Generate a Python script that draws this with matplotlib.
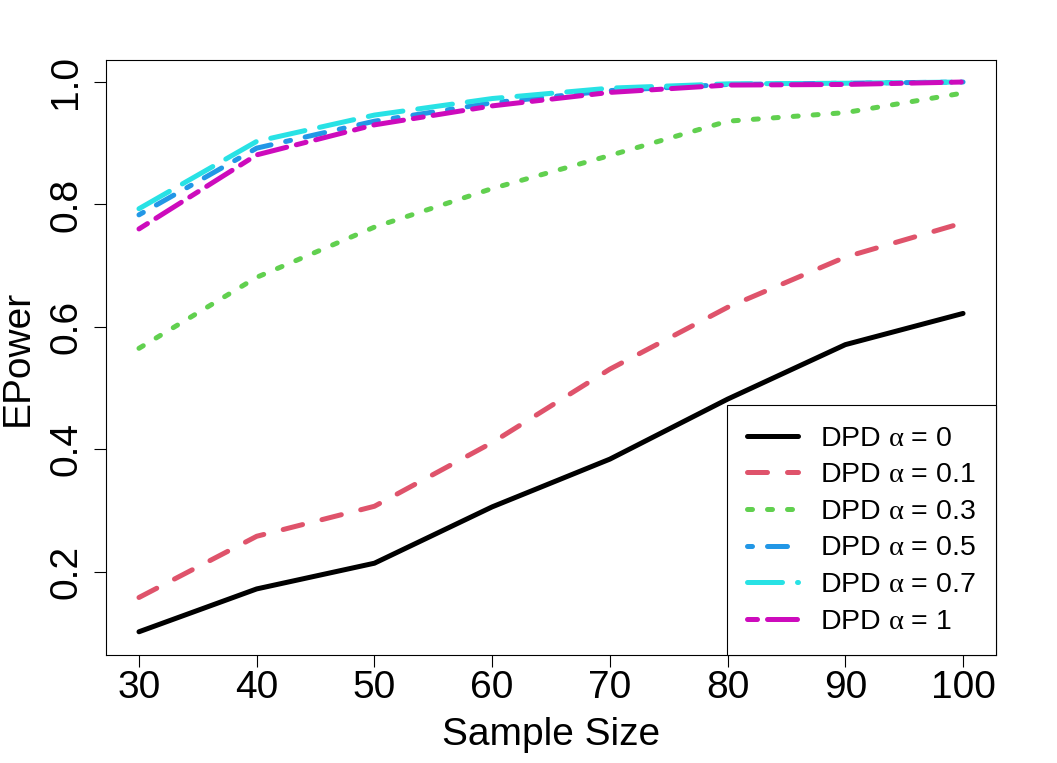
import matplotlib
matplotlib.use("Agg")
import matplotlib.pyplot as plt

# ---- data ----
sample_size = [30, 40, 50, 60, 70, 80, 90, 100]

power_a0 = [0.102, 0.172, 0.214, 0.306, 0.384, 0.482, 0.571, 0.622]
power_a01 = [0.158, 0.258, 0.307, 0.411, 0.531, 0.632, 0.714, 0.770]
power_a03 = [0.565, 0.681, 0.763, 0.826, 0.880, 0.936, 0.950, 0.982]
power_a05 = [0.783, 0.892, 0.936, 0.966, 0.986, 0.996, 0.998, 1.000]
power_a07 = [0.793, 0.903, 0.946, 0.973, 0.990, 0.997, 0.998, 1.000]
power_a1 = [0.760, 0.881, 0.930, 0.961, 0.983, 0.995, 0.996, 1.000]

labels = ["0", "0.1", "0.3", "0.5", "0.7", "1"]

# R 4.x default palette + R line types (in units of line width)
colors = ["#000000", "#DF536B", "#61D04F", "#2297E6", "#28E2E5", "#CD0BBC"]
dashes = [None, (4, 4), (1, 3), (1, 3, 4, 3), (7, 3), (2, 2, 6, 2)]

plt.rcParams["font.family"] = ["Liberation Sans", "DejaVu Sans"]
plt.rcParams["mathtext.fontset"] = "custom"
plt.rcParams["mathtext.rm"] = "Liberation Serif"

fig = plt.figure(figsize=(10.57, 7.63), dpi=100)
ax = fig.add_axes([0.1003, 0.1415, 0.8420, 0.7799])

series = [power_a0, power_a01, power_a03, power_a05, power_a07, power_a1]
for vals, col, dsh, lab in zip(series, colors, dashes, labels):
    line, = ax.plot(sample_size, vals, color=col, lw=3.6,
                    solid_capstyle="round", dash_capstyle="round",
                    solid_joinstyle="round",
                    label=r"DPD $\mathrm{\alpha}$ = " + lab)
    if dsh is not None:
        line.set_dashes(dsh)

ax.set_xlim(27.2, 102.8)
ax.set_ylim(0.064, 1.036)
ax.set_xticks(sample_size)
ax.set_yticks([0.2, 0.4, 0.6, 0.8, 1.0])
ax.set_yticklabels(["0.2", "0.4", "0.6", "0.8", "1.0"])

ax.tick_params(direction="out", length=8.6, width=0.8, labelsize=28, pad=2)
ax.tick_params(axis="y", pad=7)
for t in ax.get_yticklabels():
    t.set_rotation(90)
    t.set_va("center")
for sp in ax.spines.values():
    sp.set_linewidth(0.8)

ax.set_xlabel("Sample Size", fontsize=28, labelpad=8)
ax.set_ylabel("EPower", fontsize=28, labelpad=9)

leg = ax.legend(loc="lower right", fontsize=20.5, frameon=True, fancybox=False,
                framealpha=1, edgecolor="black", borderaxespad=0,
                borderpad=0.72, labelspacing=0.37, handlelength=1.8,
                handletextpad=0.75)
leg.get_frame().set_linewidth(0.8)

fig.savefig("out.png", dpi=100)
